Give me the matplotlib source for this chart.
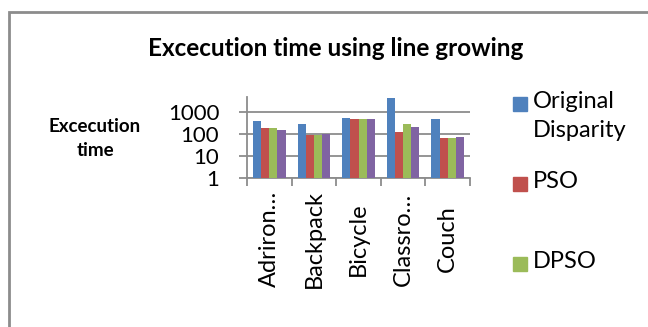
import matplotlib

matplotlib.use('Agg')
import matplotlib.pyplot as plt
import numpy as np
from matplotlib.patches import Rectangle

plt.rcParams['font.family'] = ['Lato', 'DejaVu Sans']

# Data (log scale)
categories = ['Adriron…', 'Backpack', 'Bicycle', 'Classro…', 'Couch']
series_names = ['Original\nDisparity', 'PSO', 'DPSO', 'Series 4']
original = [380, 275, 515, 4300, 465]
pso = [180, 90, 465, 120, 63]
dpso = [180, 90, 465, 275, 63]
series4 = [147, 104, 465, 200, 70]
colors = ['#4F81BD', '#C0504D', '#9BBB59', '#8064A2']

fig = plt.figure(figsize=(6.48, 3.27), dpi=100)
ax = fig.add_axes([247 / 648, 1 - 178 / 327, 223 / 648, 81 / 327])

x = np.arange(len(categories))
width = 0.183
all_series = [original, pso, dpso, series4]
for i, vals in enumerate(all_series):
    ax.bar(x + (i - 1.5) * width, vals, width, color=colors[i], zorder=3)

ax.set_yscale('log')
ax.set_ylim(1, 4800)
ax.set_xlim(-0.5, 4.5)
ax.set_yticks([1, 10, 100, 1000])
ax.set_yticklabels(['1', '10', '100', '1000'], fontsize=16)
ax.yaxis.set_minor_locator(matplotlib.ticker.NullLocator())
ax.grid(axis='y', color='#8c8c8c', linewidth=1.3, zorder=0)
ax.tick_params(axis='y', length=6, width=1.3, color='#8c8c8c', pad=14)

# category labels at centers, tick marks at boundaries
ax.set_xticks(x)
ax.set_xticklabels(categories, rotation=90, fontsize=17)
ax.tick_params(axis='x', which='major', length=0, pad=44)
for lab in ax.get_xticklabels():
    lab.set_verticalalignment('center')
ax.set_xticks(np.arange(-0.5, 5, 1), minor=True)
ax.tick_params(axis='x', which='minor', length=6, width=1.3, color='#8c8c8c')

for side in ['top', 'right']:
    ax.spines[side].set_visible(False)
for side in ['left', 'bottom']:
    ax.spines[side].set_color('#8c8c8c')
    ax.spines[side].set_linewidth(1.3)

fig.text(336 / 648, 1 - 48 / 327, 'Excecution time using line growing',
         ha='center', va='center', fontsize=17.5, fontweight='bold')
fig.text(95 / 648, 1 - 139 / 327, 'Excecution\ntime', ha='center', va='center',
         fontsize=13.5, fontweight='bold', linespacing=1.5)

# legend (fourth entry falls below the visible area)
for i, name in enumerate(series_names[:3]):
    top = 97 + i * 80
    fig.patches.append(Rectangle((513 / 648, 1 - (top + 14) / 327), 14 / 648, 14 / 327,
                                 transform=fig.transFigure, color=colors[i]))
    fig.text(533 / 648, 1 - (top - 6) / 327, name, ha='left', va='top',
             fontsize=17, linespacing=1.45)

# outer chart border
fig.patches.append(Rectangle((9 / 648, -0.1), 1.2, 1.1 - 12 / 327, transform=fig.transFigure,
                             fill=False, edgecolor='#8c8c8c', linewidth=2))

fig.savefig('out.png', dpi=100)
